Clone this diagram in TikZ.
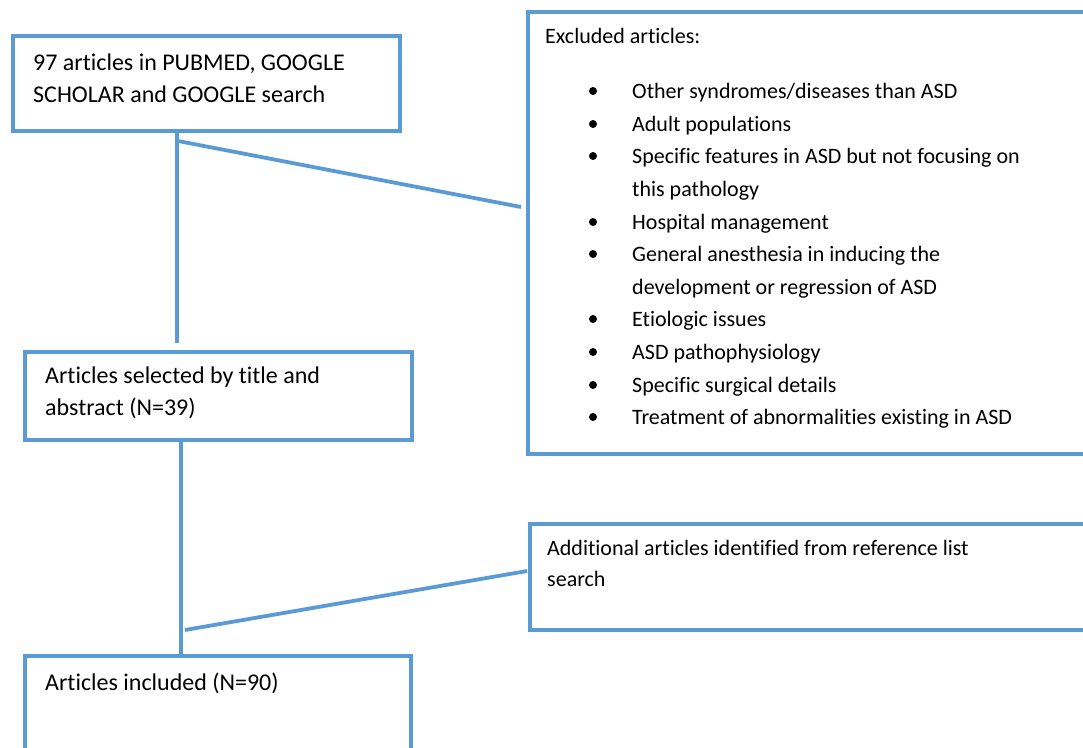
\documentclass[tikz,border=0pt]{standalone}
\usepackage{fontspec}
\setmainfont{Carlito}[Ligatures={NoCommon}]
\definecolor{wordblue}{RGB}{91,155,213}
\begin{document}
\begin{tikzpicture}[x=1pt,y=-1pt,
  box/.style={draw=wordblue, line width=3.6pt, inner sep=0pt, anchor=north west},
  link/.style={draw=wordblue, line width=3.8pt},
  txt/.style={anchor=base west, inner sep=0pt, font=\fontsize{24}{32}\selectfont},
  rtxt/.style={anchor=base west, inner sep=0pt, font=\fontsize{22}{32}\selectfont}]
\useasboundingbox (0,0) rectangle (1083,747);
\clip (0,0) rectangle (1083,747);
% boxes
\node[box, minimum width=387, minimum height=95] (b1) at (11,34) {};
\node[box, minimum width=569, minimum height=442] (excl) at (526,10) {};
\node[box, minimum width=387, minimum height=88] (b2) at (23,350) {};
\node[box, minimum width=567, minimum height=106] (add) at (528,522) {};
\node[box, minimum width=386, minimum height=110] (b3) at (23,654) {};
% texts
\node[txt] (t1a) at (33,70) {97 articles in PUBMED, GOOGLE};
\node[txt] (t1b) at (33,102) {SCHOLAR and GOOGLE search};
\node[txt] (t2a) at (45,383) {Articles selected by title and};
\node[txt] (t2b) at (45,415) {abstract (N=39)};
\node[txt] (t3) at (45,690) {Articles included (N=90)};
\node[rtxt] (ta) at (547,555) {Additional articles identified from reference list};
\node[rtxt] (tb) at (547,586) {search};
\node[rtxt] (ex) at (545,43) {Excluded articles:};
\foreach \y/\b/\t [count=\i] in {
  98/1/{Other syndromes/diseases than ASD},
  131/1/{Adult populations},
  163/1/{Specific features in ASD but not focusing on},
  196/0/{this pathology},
  229/1/{Hospital management},
  261/1/{General anesthesia in inducing the},
  294/0/{development or regression of ASD},
  326/1/{Etiologic issues},
  359/1/{ASD pathophysiology},
  392/1/{Specific surgical details},
  424/1/{Treatment of abnormalities existing in ASD}} {
  \node[rtxt] (item\i) at (632,\y) {\t};
  \ifnum\b=1
    \fill (593,\y-7) circle (4pt);
  \fi
}
% connectors
\coordinate (c1top) at (177,129);
\coordinate (c1bot) at (177,343);
\coordinate (d1a) at (178,141);
\coordinate (d1b) at (521,207);
\coordinate (c2top) at (181,438);
\coordinate (d2a) at (185,630);
\coordinate (d2b) at (527,571);
\draw[link] (c1top) -- (c1bot);
\draw[link] (d1a) -- (d1b);
\draw[link] (c2top) -- (c2top |- b3.north);
\draw[link] (d2a) -- (d2b);
\end{tikzpicture}
\end{document}
